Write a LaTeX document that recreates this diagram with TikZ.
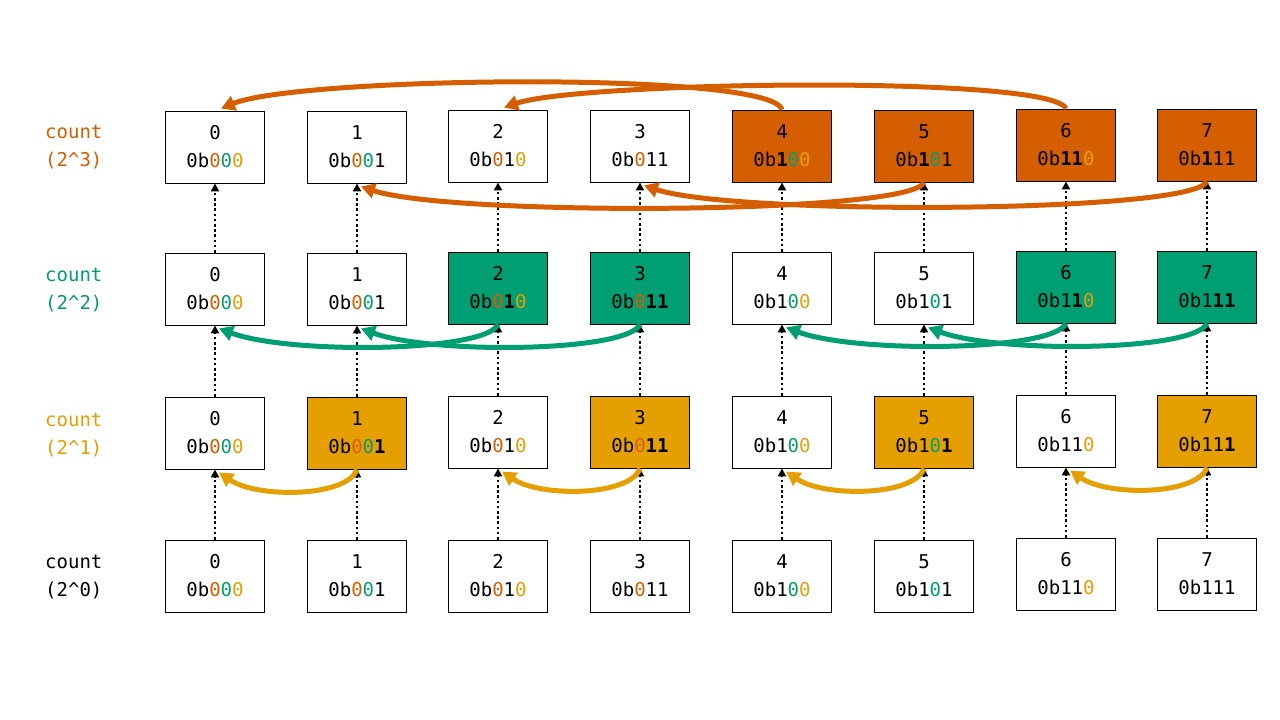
\documentclass[tikz,border=0pt]{standalone}
\usepackage{fontspec}
\setmonofont{DejaVu Sans Mono}
\usetikzlibrary{arrows.meta}
\definecolor{cO}{HTML}{D55E00}
\definecolor{cG}{HTML}{009E73}
\definecolor{cY}{HTML}{E69F00}
\newcommand\Zo{\textcolor{cO}{0}}
\newcommand\Zg{\textcolor{cG}{0}}
\newcommand\Zy{\textcolor{cY}{0}}
\newcommand\Bn{\textbf{1}}
\tikzset{
  box/.style={draw=black, line width=0.9pt, fill=white, minimum width=99pt, minimum height=72pt,
    inner sep=0pt, align=center, font=\fontsize{19}{28}\selectfont\ttfamily},
  hO/.style={box, fill=cO},
  hG/.style={box, fill=cG},
  hY/.style={box, fill=cY},
  rowlabel/.style={anchor=west, align=left, inner sep=0pt, font=\fontsize{19}{28}\selectfont\ttfamily},
  dotarrow/.style={line width=2.6pt, dash pattern=on 2.6pt off 2.6pt, -{Triangle[length=8pt,width=8pt]}},
  bigarrow/.style={line width=5pt, -{Triangle[length=14pt,width=15pt]}}
}
\begin{document}
\begin{tikzpicture}[x=1pt,y=-1pt]
\fill[white] (0,0) rectangle (1280,720);
\useasboundingbox (0,0) rectangle (1280,720);

% row labels
\node[rowlabel, text=cO] (l3) at (45,147) {count\\(2\textasciicircum3)};
\node[rowlabel, text=cG] (l2) at (45,290) {count\\(2\textasciicircum2)};
\node[rowlabel, text=cY] (l1) at (45,435) {count\\(2\textasciicircum1)};
\node[rowlabel, text=black] (l0) at (45,577) {count\\(2\textasciicircum0)};

% row 2^0
\node[box] (r0c0) at (215,576) {0\\0b\Zo\Zg\Zy};
\node[box] (r0c1) at (357,576) {1\\0b\Zo\Zg1};
\node[box] (r0c2) at (498,576) {2\\0b\Zo1\Zy};
\node[box] (r0c3) at (640,576) {3\\0b\Zo11};
\node[box] (r0c4) at (782,576) {4\\0b1\Zg\Zy};
\node[box] (r0c5) at (924,576) {5\\0b1\Zg1};
\node[box] (r0c6) at (1066,574) {6\\0b11\Zy};
\node[box] (r0c7) at (1207,574) {7\\0b111};

% row 2^1
\node[box] (r1c0) at (215,433) {0\\0b\Zo\Zg\Zy};
\node[hY]  (r1c1) at (357,433) {1\\0b\Zo\Zg\Bn};
\node[box] (r1c2) at (498,432) {2\\0b\Zo1\Zy};
\node[hY]  (r1c3) at (640,432) {3\\0b\Zo\Bn\Bn};
\node[box] (r1c4) at (782,432) {4\\0b1\Zg\Zy};
\node[hY]  (r1c5) at (924,432) {5\\0b1\Zg\Bn};
\node[box] (r1c6) at (1066,431) {6\\0b11\Zy};
\node[hY]  (r1c7) at (1207,431) {7\\0b11\Bn};

% row 2^2
\node[box] (r2c0) at (215,289) {0\\0b\Zo\Zg\Zy};
\node[box] (r2c1) at (357,289) {1\\0b\Zo\Zg1};
\node[hG]  (r2c2) at (498,288) {2\\0b\Zo\Bn\Zy};
\node[hG]  (r2c3) at (640,288) {3\\0b\Zo\Bn\Bn};
\node[box] (r2c4) at (782,288) {4\\0b1\Zg\Zy};
\node[box] (r2c5) at (924,288) {5\\0b1\Zg1};
\node[hG]  (r2c6) at (1066,287) {6\\0b1\Bn\Zy};
\node[hG]  (r2c7) at (1207,287) {7\\0b1\Bn\Bn};

% row 2^3
\node[box] (r3c0) at (215,147) {0\\0b\Zo\Zg\Zy};
\node[box] (r3c1) at (357,147) {1\\0b\Zo\Zg1};
\node[box] (r3c2) at (498,146) {2\\0b\Zo1\Zy};
\node[box] (r3c3) at (640,146) {3\\0b\Zo11};
\node[hO]  (r3c4) at (782,146) {4\\0b\Bn\Zg\Zy};
\node[hO]  (r3c5) at (924,146) {5\\0b\Bn\Zg1};
\node[hO]  (r3c6) at (1066,145) {6\\0b\Bn\Bn\Zy};
\node[hO]  (r3c7) at (1207,145) {7\\0b\Bn11};

% dotted vertical arrows
\foreach \i in {0,...,7}{
  \draw[dotarrow] (r0c\i.north) -- (r1c\i.south);
  \draw[dotarrow] (r1c\i.north) -- (r2c\i.south);
  \draw[dotarrow] (r2c\i.north) -- (r3c\i.south);
}

% yellow arcs (2^1)
\foreach \a/\b in {1/0,3/2,5/4,7/6}{
  \draw[bigarrow, cY] (r1c\a.south) .. controls +(-10,28) and +(38,26) .. ([xshift=4pt,yshift=-3pt]r1c\b.south);
}

% green arcs (2^2)
\foreach \a/\b in {2/0,3/1,6/4,7/5}{
  \draw[bigarrow, cG] (r2c\a.south) .. controls +(-13,28) and +(70,26) .. ([xshift=4pt,yshift=-3pt]r2c\b.south);
}

% orange arcs (2^3)
\draw[bigarrow, cO] (r3c4.north) .. controls +(-12,-39) and +(78,-32) .. ([xshift=6pt,yshift=2pt]r3c0.north);
\draw[bigarrow, cO] (r3c6.north) .. controls +(-16,-34) and +(76,-26) .. ([xshift=6pt,yshift=2pt]r3c2.north);
\draw[bigarrow, cO] (r3c5.south) .. controls +(-14,32) and +(90,30) .. ([xshift=4pt,yshift=-3pt]r3c1.south);
\draw[bigarrow, cO] (r3c7.south) .. controls +(-14,32) and +(90,30) .. ([xshift=4pt,yshift=-3pt]r3c3.south);
\end{tikzpicture}
\end{document}
